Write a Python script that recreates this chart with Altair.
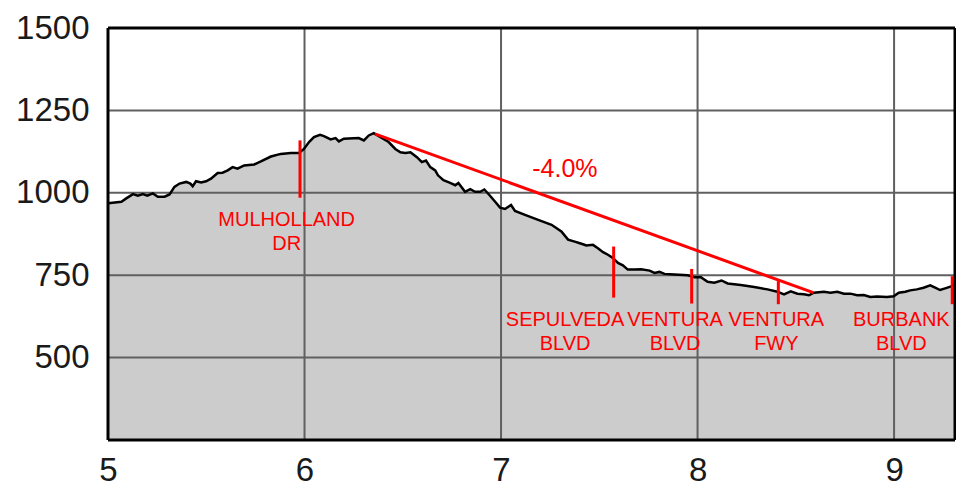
import altair as alt
import pandas as pd

# elevation profile (miles, feet)
miles = [5.000, 5.068, 5.093, 5.127, 5.152, 5.177, 5.200, 5.228, 5.254, 5.288,
         5.313, 5.338, 5.364, 5.398, 5.419, 5.431, 5.448, 5.474, 5.499, 5.524,
         5.558, 5.583, 5.609, 5.634, 5.659, 5.693, 5.744, 5.778, 5.829, 5.879,
         5.930, 5.972, 5.997, 6.023, 6.048, 6.079, 6.099, 6.133, 6.158, 6.175,
         6.200, 6.276, 6.302, 6.327, 6.352, 6.378, 6.428, 6.462, 6.488, 6.513,
         6.539, 6.572, 6.597, 6.618, 6.640, 6.665, 6.679, 6.707, 6.741, 6.767,
         6.783, 6.817, 6.843, 6.868, 6.894, 6.915, 6.944, 6.970, 6.995, 7.020,
         7.051, 7.071, 7.122, 7.189, 7.257, 7.307, 7.341, 7.375, 7.401, 7.417,
         7.434, 7.468, 7.493, 7.519, 7.544, 7.569, 7.595, 7.620, 7.645, 7.680,
         7.713, 7.756, 7.781, 7.806, 7.832, 7.882, 7.950, 7.984, 8.017, 8.051,
         8.085, 8.122, 8.153, 8.220, 8.288, 8.356, 8.406, 8.440, 8.474, 8.508,
         8.541, 8.567, 8.592, 8.643, 8.676, 8.711, 8.745, 8.778, 8.812, 8.846,
         8.879, 8.913, 8.964, 8.998, 9.024, 9.057, 9.082, 9.116, 9.150, 9.184,
         9.209, 9.234, 9.260, 9.294, 9.310]
elevation = [968, 973, 983, 996, 991, 996, 991, 998, 988, 988,
             995, 1018, 1028, 1033, 1028, 1020, 1035, 1031, 1035, 1043,
             1060, 1061, 1068, 1078, 1073, 1083, 1086, 1095, 1110, 1118,
             1121, 1121, 1133, 1154, 1169, 1176, 1172, 1162, 1166, 1156,
             1164, 1166, 1159, 1174, 1181, 1172, 1154, 1133, 1123, 1121,
             1123, 1108, 1093, 1098, 1078, 1068, 1053, 1038, 1030, 1023,
             1030, 1003, 1011, 1003, 1003, 1010, 991, 973, 955, 951,
             963, 945, 933, 918, 903, 883, 858, 852, 847, 844,
             840, 842, 832, 820, 812, 802, 787, 780, 767, 767,
             768, 764, 757, 760, 754, 752, 750, 744, 744, 730,
             727, 734, 725, 720, 714, 707, 700, 692, 701, 694,
             692, 689, 697, 700, 697, 700, 694, 694, 689, 690,
             684, 685, 684, 686, 697, 700, 704, 707, 712, 719,
             712, 705, 710, 717, 722]

x_ticks = [5, 6, 7, 8, 9]
y_ticks = [500, 750, 1000, 1250, 1500]
grid_x = [6, 7, 8, 9]
grid_y = [500, 750, 1000, 1250]
x_range = [5, 9.31]
y_range = [250, 1500]

marker_x = [5.977, 7.573, 7.970, 8.411, 9.296]
marker_top = [1159, 837, 769, 732, 747]
marker_bottom = [985, 682, 664, 662, 662]

label_line1 = ["MULHOLLAND", "SEPULVEDA", "VENTURA", "VENTURA", "BURBANK"]
label_line2 = ["DR", "BLVD", "BLVD", "FWY", "BLVD"]
label_x = [5.909, 7.326, 7.886, 8.401, 9.037]
label_y1 = [900, 596, 596, 596, 596]
label_y2 = [825, 523, 523, 523, 523]

grade_x = [6.358, 8.589]
grade_y = [1179, 697]
grade_text = ["-4.0%"]
grade_text_x = [7.325]
grade_text_y = [1048]

FONT = "Liberation Sans"
RED = "#ff0000"

xs = alt.Scale(domain=x_range, nice=False, zero=False)
ys = alt.Scale(domain=y_range, nice=False, zero=False)

profile = pd.DataFrame({"mile": miles, "elev": elevation})
gx = pd.DataFrame({"mile": grid_x})
gy = pd.DataFrame({"elev": grid_y})
fx = pd.DataFrame({"mile": x_range})
fy = pd.DataFrame({"elev": y_range})
markers = pd.DataFrame({"mile": marker_x, "elev": marker_top, "bottom": marker_bottom})
labels = pd.DataFrame({
    "mile": label_x + label_x,
    "elev": label_y1 + label_y2,
    "text": label_line1 + label_line2,
})
grade = pd.DataFrame({"mile": grade_x, "elev": grade_y})
grade_lbl = pd.DataFrame({"mile": grade_text_x, "elev": grade_text_y, "text": grade_text})

x_axis = alt.Axis(values=x_ticks, title=None, grid=False, ticks=False, domain=False,
                  format="d", labelFont=FONT, labelFontSize=33, labelColor="#1a1a1a",
                  labelPadding=14, labelFlush=False, labelOverlap=False)
y_axis = alt.Axis(values=y_ticks, title=None, grid=False, ticks=False, domain=False,
                  format="d", labelFont=FONT, labelFontSize=33, labelColor="#1a1a1a",
                  labelPadding=19, labelOverlap=False)

X = alt.X("mile:Q", scale=xs, axis=x_axis)
Y = alt.Y("elev:Q", scale=ys, axis=y_axis)

area = alt.Chart(profile).mark_area(color="#cccccc", clip=True).encode(x=X, y=Y)

vgrid = alt.Chart(gx).mark_rule(color="#606060", strokeWidth=2).encode(x=X)
hgrid = alt.Chart(gy).mark_rule(color="#606060", strokeWidth=2).encode(y=Y)

line = alt.Chart(profile).mark_line(color="black", strokeWidth=2.5, clip=True).encode(x=X, y=Y)

ticks = alt.Chart(markers).mark_rule(color=RED, strokeWidth=3).encode(
    x=X, y=Y, y2="bottom:Q"
)

grade_line = alt.Chart(grade).mark_line(color=RED, strokeWidth=3).encode(x=X, y=Y)

label_text = alt.Chart(labels).mark_text(
    color=RED, font=FONT, fontSize=20, align="center", baseline="alphabetic"
).encode(x=X, y=Y, text="text:N")

grade_label = alt.Chart(grade_lbl).mark_text(
    color=RED, font=FONT, fontSize=25, align="center", baseline="alphabetic"
).encode(x=X, y=Y, text="text:N")

frame_v = alt.Chart(fx).mark_rule(color="black", strokeWidth=3).encode(x=X)
frame_h = alt.Chart(fy).mark_rule(color="black", strokeWidth=3).encode(y=Y)

chart = alt.layer(
    area, vgrid, hgrid, line, ticks, grade_line, label_text, grade_label,
    frame_v, frame_h
).properties(
    width=847,
    height=412,
    padding={"left": 100, "top": 20, "right": 1, "bottom": 48},
    autosize="none",
    background="white",
).configure_view(
    strokeWidth=0
)

chart.save("out.html", embed_options={"renderer": "svg", "actions": False})
